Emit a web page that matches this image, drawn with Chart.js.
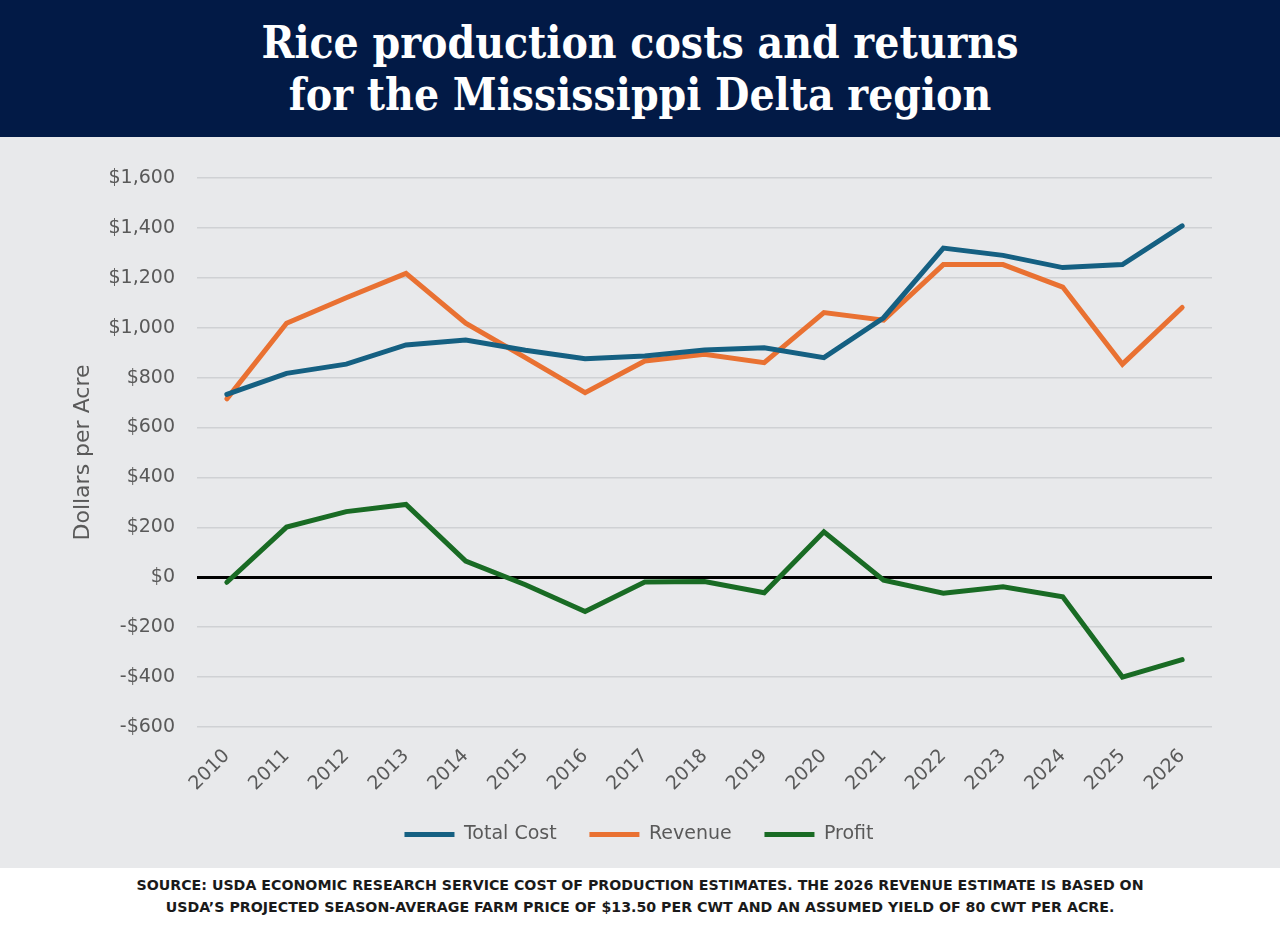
<!DOCTYPE html>
<html>
<head>
<meta charset="utf-8">
<script src="https://cdn.jsdelivr.net/npm/chart.js@4"></script>
<style>
  html, body { margin: 0; padding: 0; }
  body { width: 1280px; height: 926px; overflow: hidden; background: #fff; }
  .header {
    height: 137px; background: #021a46; color: #fff; text-align: center;
    font-family: "DejaVu Serif", serif; font-weight: bold; font-stretch: condensed;
    font-size: 44px; line-height: 52.4px; padding-top: 17px; box-sizing: border-box;
  }
  .plot { position: relative; height: 731px; background: #e8e9eb; }
  .footer {
    text-align: center; font-family: "DejaVu Sans", sans-serif; font-weight: bold;
    font-size: 14.2px; line-height: 21.5px; color: #1a1a1a; padding-top: 7px;
  }
</style>
</head>
<body>
<div class="header">Rice production costs and returns<br>for the Mississippi Delta region</div>
<div class="plot"><canvas id="myChart"></canvas></div>
<div class="footer">SOURCE: USDA ECONOMIC RESEARCH SERVICE COST OF PRODUCTION ESTIMATES. THE 2026 REVENUE ESTIMATE IS BASED ON<br>USDA’S PROJECTED SEASON-AVERAGE FARM PRICE OF $13.50 PER CWT AND AN ASSUMED YIELD OF 80 CWT PER ACRE.</div>
<script>
// datos (dólares por acre)
const years = ['2010', '2011', '2012', '2013', '2014', '2015', '2016', '2017', '2018',
  '2019', '2020', '2021', '2022', '2023', '2024', '2025', '2026'];
const totalCost = [733, 817, 854, 931, 951, 910, 876, 887, 911, 920, 880, 1040, 1319, 1290, 1241, 1253, 1408];
const revenue = [715, 1018, 1120, 1218, 1018, 880, 740, 867, 894, 860, 1061, 1030, 1253, 1253, 1163, 854, 1081];
const profit = [-20, 201, 263, 292, 65, -30, -137, -19, -17, -62, 182, -12, -64, -38, -78, -400, -330];

const gray = '#595959';
const font = { family: '"DejaVu Sans", sans-serif', size: 19 };

function line(label, data, color) {
  return {
    label: label,
    data: data,
    borderColor: color,
    backgroundColor: color,
    borderWidth: 5,
    borderCapStyle: 'round',
    pointRadius: 0,
    pointHoverRadius: 0,
    tension: 0
  };
}

const ctx = document.getElementById('myChart').getContext('2d');
const myChart = new Chart(ctx, {
  type: 'line',
  data: {
    labels: years,
    datasets: [
      line('Total Cost', totalCost, '#156082'),
      line('Revenue', revenue, '#e97132'),
      line('Profit', profit, '#196b24')
    ]
  },
  options: {
    responsive: true,
    maintainAspectRatio: false,
    animation: false,
    layout: { padding: { left: 66, right: 68, top: 41, bottom: 14 } },
    plugins: {
      tooltip: { enabled: false },
      legend: {
        position: 'bottom',
        labels: {
          usePointStyle: true,
          pointStyle: 'line',
          pointStyleWidth: 50,
          padding: 10,
          color: gray,
          font: font,
          // un poco más de aire entre elementos
          generateLabels: (chart) => {
            const items = Chart.defaults.plugins.legend.labels.generateLabels(chart);
            items.forEach((it, i) => { if (i < items.length - 1) it.text += '\u2003\u2009'; });
            return items;
          }
        }
      }
    },
    scales: {
      x: {
        offset: true,
        grid: { display: false },
        border: { display: false },
        ticks: { color: gray, font: font, minRotation: 45, maxRotation: 45, padding: 10 },
        afterFit: (scale) => { scale.height = 88; }
      },
      y: {
        min: -600,
        max: 1600,
        border: { display: false },
        grid: {
          drawTicks: false,
          color: (c) => c.tick && c.tick.value === 0 ? '#000000' : '#cfd1d4',
          lineWidth: (c) => c.tick && c.tick.value === 0 ? 3 : 1.5
        },
        ticks: {
          stepSize: 200,
          padding: 22,
          color: gray,
          font: font,
          callback: (v) => (v < 0 ? '-' : '') + '$' + Math.abs(v).toLocaleString('en-US')
        },
        title: {
          display: true,
          text: 'Dollars per Acre',
          color: gray,
          font: { family: '"DejaVu Sans", sans-serif', size: 22 }
        },
        afterFit: (scale) => { scale.width = 131; }
      }
    }
  }
});
</script>
</body>
</html>
